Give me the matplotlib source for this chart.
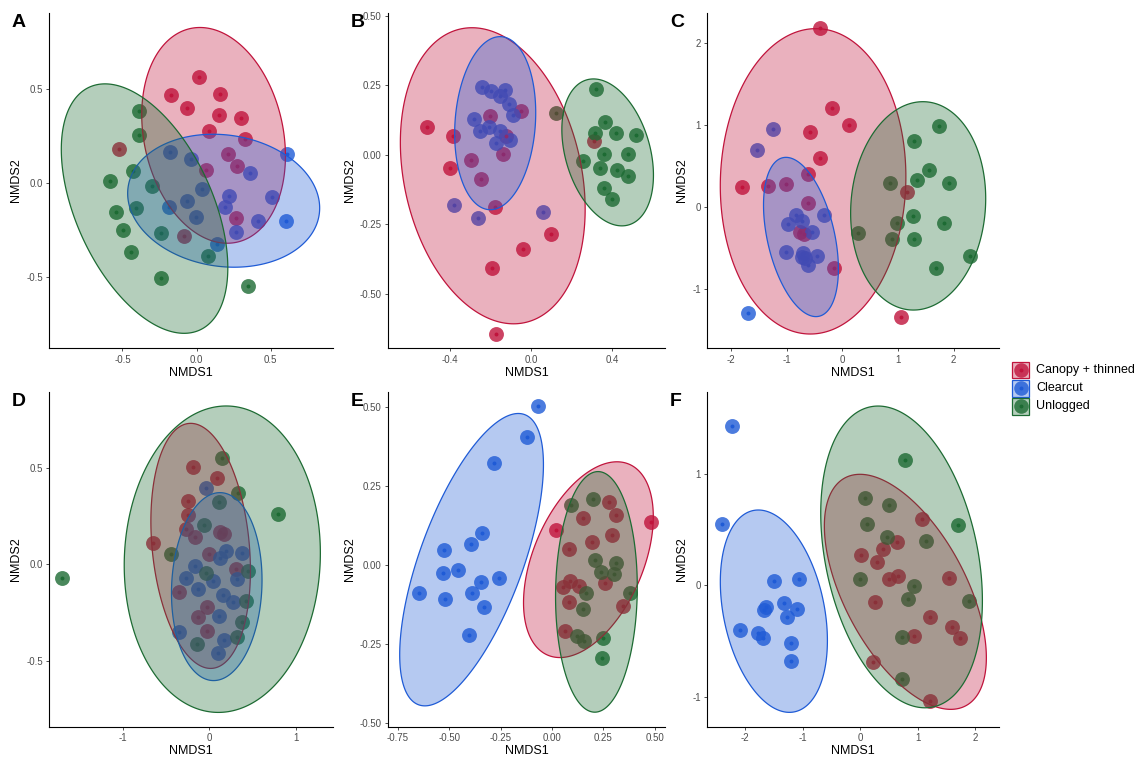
import numpy as np
import matplotlib.pyplot as plt
from matplotlib.colors import to_rgba
from matplotlib.patches import Rectangle

plt.rcParams['font.family'] = ['Liberation Sans', 'DejaVu Sans']
plt.rcParams['axes.unicode_minus'] = False

groups = ['Canopy + thinned', 'Clearcut', 'Unlogged']
colors = ['#C0143C', '#1F5BD6', '#1D6B33']

# NMDS scores (NMDS1, NMDS2)
A_canopy = [(0.018, 0.564), (-0.173, 0.472), (-0.067, 0.402), (0.157, 0.473), (0.153, 0.365),
            (0.303, 0.349), (0.085, 0.278), (0.328, 0.237), (-0.526, 0.181), (0.213, 0.153),
            (0.27, 0.093), (0.061, 0.069), (0.265, -0.189), (-0.088, -0.286)]
A_clearcut = [(0.611, 0.153), (-0.18, 0.164), (-0.038, 0.126), (0.36, 0.055), (0.034, -0.032),
              (0.216, -0.068), (0.51, -0.073), (-0.184, -0.126), (-0.067, -0.096), (0.191, -0.126),
              (-0.007, -0.18), (0.416, -0.203), (0.607, -0.201), (0.263, -0.263), (0.135, -0.327)]
A_unlogged = [(-0.387, 0.384), (-0.389, 0.256), (-0.427, 0.066), (-0.584, 0.012), (-0.299, -0.014),
              (-0.409, -0.135), (-0.544, -0.157), (-0.499, -0.251), (-0.24, -0.269), (-0.443, -0.37),
              (0.079, -0.388), (-0.24, -0.505), (0.344, -0.553)]

B_canopy = [(-0.513, 0.099), (-0.384, 0.069), (-0.398, -0.046), (-0.297, -0.017), (-0.245, -0.086),
            (-0.2, 0.138), (-0.138, 0.002), (-0.123, 0.068), (-0.048, 0.159), (-0.177, -0.186),
            (-0.039, -0.339), (0.097, -0.284), (-0.194, -0.405), (-0.172, -0.642), (0.314, 0.05)]
B_clearcut = [(-0.241, 0.243), (-0.197, 0.228), (-0.13, 0.234), (-0.151, 0.213), (-0.11, 0.183),
              (-0.283, 0.129), (-0.209, 0.099), (-0.25, 0.087), (-0.151, 0.087), (-0.102, 0.054),
              (-0.172, 0.042), (-0.09, 0.144), (-0.381, -0.18), (-0.261, -0.225), (0.062, -0.205)]
B_unlogged = [(0.32, 0.237), (0.123, 0.15), (0.366, 0.117), (0.317, 0.078), (0.419, 0.08),
              (0.517, 0.072), (0.255, -0.022), (0.361, 0.002), (0.478, 0.002), (0.342, -0.048),
              (0.427, -0.054), (0.478, -0.075), (0.361, -0.12), (0.399, -0.158)]

C_canopy = [(-0.395, 2.184), (-0.191, 1.21), (0.126, 0.999), (-0.58, 0.909), (-0.401, 0.601),
            (-1.806, 0.248), (-1.345, 0.256), (-1.01, 0.276), (-0.61, 0.402), (-0.61, 0.045),
            (-0.759, -0.309), (-0.688, -0.333), (-0.143, -0.747), (1.166, 0.187), (1.046, -1.344)]
C_clearcut = [(-1.238, 0.95), (-1.531, 0.694), (-1.704, -1.287), (-0.831, -0.097), (-0.969, -0.207),
              (-0.729, -0.166), (-0.55, -0.309), (-0.323, -0.097), (-1.01, -0.552), (-0.712, -0.564),
              (-0.67, -0.625), (-0.46, -0.597), (-0.61, -0.706), (-0.729, -0.605)]
C_unlogged = [(1.74, 0.987), (1.285, 0.8), (1.56, 0.447), (1.345, 0.329), (1.919, 0.288),
              (0.855, 0.296), (1.273, -0.11), (1.824, -0.191), (0.975, -0.191), (0.281, -0.313),
              (0.897, -0.394), (1.291, -0.394), (2.29, -0.597), (1.692, -0.739)]

D_canopy = [(-0.185, 0.501), (0.096, 0.444), (-0.242, 0.328), (-0.242, 0.254), (-0.262, 0.181),
            (-0.165, 0.142), (0.123, 0.168), (0.173, 0.155), (-0.65, 0.111), (0.0, 0.05),
            (0.315, -0.026), (-0.35, -0.147), (-0.023, -0.225), (-0.131, -0.273), (-0.023, -0.347)]
D_clearcut = [(-0.038, 0.392), (0.2, 0.069), (0.381, 0.059), (0.123, 0.033), (-0.165, -0.009),
              (-0.269, -0.071), (0.046, -0.088), (-0.127, -0.13), (0.327, -0.078), (0.162, -0.161),
              (0.277, -0.195), (0.115, -0.268), (-0.346, -0.354), (0.173, -0.394), (0.104, -0.463)]
D_unlogged = [(0.15, 0.547), (0.335, 0.366), (0.115, 0.323), (-0.062, 0.202), (0.796, 0.257),
              (-0.435, 0.05), (0.446, -0.036), (-0.031, -0.045), (0.431, -0.19), (0.377, -0.302),
              (0.327, -0.377), (-0.138, -0.416), (-1.704, -0.074)]

E_canopy = [(0.019, 0.112), (0.482, 0.137), (0.276, 0.2), (0.313, 0.159), (0.152, 0.149),
            (0.292, 0.096), (0.196, 0.073), (0.083, 0.051), (0.052, -0.068), (0.088, -0.05),
            (0.131, -0.064), (0.258, -0.057), (0.083, -0.117), (0.347, -0.129), (0.063, -0.208)]
E_clearcut = [(-0.068, 0.505), (-0.12, 0.408), (-0.285, 0.323), (-0.342, 0.103), (-0.397, 0.068),
              (-0.524, 0.049), (-0.456, -0.015), (-0.532, -0.025), (-0.345, -0.054), (-0.259, -0.039),
              (-0.391, -0.089), (-0.65, -0.086), (-0.519, -0.108), (-0.332, -0.133), (-0.404, -0.221)]
E_unlogged = [(0.091, 0.19), (0.201, 0.209), (0.209, 0.017), (0.237, -0.022), (0.31, 0.008),
              (0.303, -0.027), (0.165, -0.086), (0.379, -0.086), (0.152, -0.139), (0.122, -0.224),
              (0.157, -0.24), (0.25, -0.229), (0.242, -0.292)]

F_canopy = [(1.074, 0.597), (0.634, 0.387), (0.391, 0.327), (0.02, 0.273), (0.287, 0.213),
            (0.507, 0.057), (0.651, 0.084), (1.549, 0.063), (0.258, -0.153), (1.213, -0.282),
            (1.607, -0.372), (1.746, -0.471), (0.941, -0.453), (0.217, -0.687), (1.213, -1.04)]
F_clearcut = [(-2.226, 1.433), (-2.405, 0.549), (-1.496, 0.039), (-1.068, 0.054), (-1.334, -0.162),
              (-1.647, -0.198), (-1.682, -0.222), (-1.103, -0.213), (-1.276, -0.282), (-2.098, -0.402),
              (-1.78, -0.432), (-1.693, -0.471), (-1.207, -0.522), (-1.207, -0.681)]
F_unlogged = [(0.779, 1.124), (0.078, 0.783), (0.495, 0.723), (0.113, 0.552), (1.705, 0.54),
              (0.46, 0.432), (1.138, 0.399), (-0.003, 0.06), (0.935, -0.003), (0.837, -0.123),
              (1.892, -0.138), (0.732, -0.465), (0.732, -0.846)]

# 95% ellipses per group: centre x, centre y, half-width, half-height, correlation
A_ell = [(0.115, 0.254, 0.485, 0.576, -0.19), (0.183, -0.095, 0.648, 0.355, -0.11),
         (-0.351, -0.137, 0.562, 0.666, -0.475)]
B_ell = [(-0.188, -0.075, 0.456, 0.532, -0.225), (-0.176, 0.114, 0.200, 0.311, 0.12),
         (0.379, 0.009, 0.226, 0.264, -0.31)]
C_ell = [(-0.526, 0.313, 1.668, 1.860, 0.03), (-0.744, -0.365, 0.673, 0.970, -0.40),
         (1.363, 0.014, 1.214, 1.269, 0.07)]
D_ell = [(-0.098, 0.094, 0.575, 0.635, -0.20), (0.088, -0.117, 0.523, 0.487, 0.07),
         (0.152, 0.025, 1.133, 0.794, 0.04)]
E_ell = [(0.177, 0.018, 0.316, 0.310, 0.44), (-0.392, 0.018, 0.350, 0.463, 0.65),
         (0.216, -0.084, 0.199, 0.381, 0.04)]
F_ell = [(0.787, -0.058, 1.410, 1.057, -0.56), (-1.502, -0.232, 0.932, 0.910, -0.29),
         (0.721, 0.256, 1.407, 1.357, -0.29)]

A_xticks, A_yticks = ['-0.5', '0.0', '0.5'], ['-0.5', '0.0', '0.5']
B_xticks, B_yticks = ['-0.4', '0.0', '0.4'], ['-0.50', '-0.25', '0.00', '0.25', '0.50']
C_xticks, C_yticks = ['-2', '-1', '0', '1', '2'], ['-1', '0', '1', '2']
D_xticks, D_yticks = ['-1', '0', '1'], ['-0.5', '0.0', '0.5']
E_xticks, E_yticks = ['-0.75', '-0.50', '-0.25', '0.00', '0.25', '0.50'], ['-0.50', '-0.25', '0.00', '0.25', '0.50']
F_xticks, F_yticks = ['-2', '-1', '0', '1', '2'], ['-1', '0', '1']

panels = [
    ('A', [A_canopy, A_clearcut, A_unlogged], A_ell, A_xticks, A_yticks, (-0.996, 0.921), (-0.883, 0.909)),
    ('B', [B_canopy, B_clearcut, B_unlogged], B_ell, B_xticks, B_yticks, (-0.705, 0.662), (-0.695, 0.511)),
    ('C', [C_canopy, C_clearcut, C_unlogged], C_ell, C_xticks, C_yticks, (-2.433, 2.816), (-1.721, 2.367)),
    ('D', [D_canopy, D_clearcut, D_unlogged], D_ell, D_xticks, D_yticks, (-1.85, 1.431), (-0.843, 0.893)),
    ('E', [E_canopy, E_clearcut, E_unlogged], E_ell, E_xticks, E_yticks, (-0.799, 0.550), (-0.511, 0.550)),
    ('F', [F_canopy, F_clearcut, F_unlogged], F_ell, F_xticks, F_yticks, (-2.666, 2.417), (-1.271, 1.742)),
]

W, H = 1137, 758
fig = plt.figure(figsize=(W / 100, H / 100), dpi=100)

# panel boxes in pixels: left, right, top, bottom
cols = [(49, 333), (388, 665), (707, 999)]
rows = [(12.7, 348.3), (391.7, 726.7)]

t = np.linspace(0, 2 * np.pi, 300)

for i, (letter, pts, ells, xt, yt, xlim, ylim) in enumerate(panels):
    l, r = cols[i % 3]
    top, bot = rows[i // 3]
    ax = fig.add_axes([l / W, 1 - bot / H, (r - l) / W, (bot - top) / H])

    for g, c in zip(pts, colors):
        g = np.array(g)
        ax.scatter(g[:, 0], g[:, 1], s=115, color=c, alpha=0.8, linewidths=0, zorder=2)
        ax.scatter(g[:, 0], g[:, 1], s=8, color=c, linewidths=0, zorder=3)

    for (cx, cy, wx, wy, rho), c in zip(ells, colors):
        ex = cx + wx * np.cos(t)
        ey = cy + wy * (rho * np.cos(t) + np.sqrt(1 - rho ** 2) * np.sin(t))
        ax.fill(ex, ey, facecolor=to_rgba(c, 0.33), edgecolor=c, linewidth=0.9, zorder=4)

    ax.set_xlim(*xlim)
    ax.set_ylim(*ylim)
    ax.set_xticks([float(v) for v in xt])
    ax.set_xticklabels(xt)
    ax.set_yticks([float(v) for v in yt])
    ax.set_yticklabels(yt)
    for s in ['top', 'right']:
        ax.spines[s].set_visible(False)
    for s in ['left', 'bottom']:
        ax.spines[s].set_linewidth(0.8)
    ax.tick_params(length=2.5, width=0.6, color='#333333', labelsize=7,
                   labelcolor='#4D4D4D', pad=2)
    ax.set_xlabel('NMDS1', fontsize=9, labelpad=1.5)
    ax.set_ylabel('NMDS2', fontsize=9, labelpad=3)
    fig.text((l - 37) / W, 1 - (top + 10) / H, letter, fontsize=14, fontweight='bold',
             ha='left', va='center')

# legend, drawn in a small pixel-unit axes
lax = fig.add_axes([1005 / W, 1 - 420 / H, 130 / W, 60 / H])
lax.set_xlim(1005, 1135)
lax.set_ylim(420, 360)
lax.axis('off')
for k, (name, c) in enumerate(zip(groups, colors)):
    yc = 370 + 18.2 * k
    lax.add_patch(Rectangle((1012, yc - 8.3), 17, 16.6, facecolor=to_rgba(c, 0.33),
                            edgecolor=c, linewidth=0.9))
    lax.scatter([1020.5], [yc], s=110, color=c, alpha=0.8, linewidths=0)
    lax.scatter([1020.5], [yc], s=8, color=c, linewidths=0)
    lax.text(1036, yc, name, fontsize=9, va='center', ha='left')

fig.savefig('out.png', dpi=100)
